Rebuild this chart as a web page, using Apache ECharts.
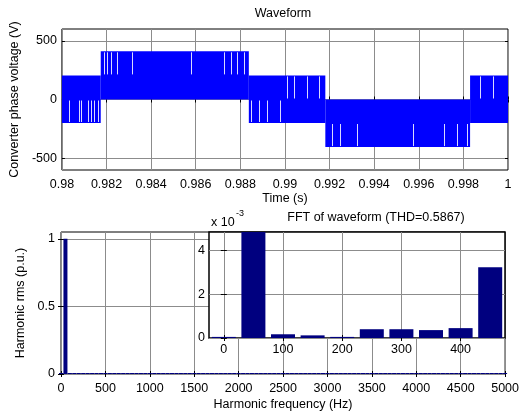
<!DOCTYPE html>
<html>
<head>
<meta charset="utf-8">
<script src="https://cdn.jsdelivr.net/npm/echarts@6/dist/echarts.min.js"></script>
<style>
html, body { margin: 0; padding: 0; background: #fff; }
#main { width: 522px; height: 418px; }
</style>
</head>
<body>
<div id="main"></div>
<script>
// ---- top plot: converter phase voltage, one 50 Hz cycle ----
var timeTicks = [0.98, 0.982, 0.984, 0.986, 0.988, 0.99, 0.992, 0.994, 0.996, 0.998, 1];
var voltTicks = [-500, 0, 500];
// PWM switches too fast to resolve, so each stretch is drawn as the band it fills
var segStart = [0.98, 0.98174, 0.98838, 0.99181, 0.9983];
var segEnd = [0.98174, 0.98838, 0.99181, 0.9983, 1.0];
var segHigh = [205, 410, 205, 0, 205];
var segLow = [-200, 0, -200, -405, -200];
// visible white gaps (where the signal skips a pulse)
var gapTime = [0.98033, 0.98077, 0.98085, 0.98118, 0.9813, 0.98145, 0.9816,
    0.98189, 0.98204, 0.98219, 0.98249, 0.98316, 0.98577, 0.98726, 0.98756, 0.98786, 0.98816,
    0.98846, 0.98883, 0.9892, 0.9898,
    0.9901, 0.9904, 0.991, 0.99151,
    0.99211, 0.99248, 0.99323, 0.99576, 0.99711, 0.9977, 0.99815,
    0.99875, 0.99934];
var gapLow = [-200, -200, -200, -200, -200, -200, -200,
    205, 205, 205, 205, 205, 205, 205, 205, 205, 205,
    -200, -200, -200, -200,
    0, 0, 0, 0,
    -405, -405, -405, -405, -405, -405, -405,
    0, 0];
var gapHigh = [0, 0, 0, 0, 0, 0, 0,
    410, 410, 410, 410, 410, 410, 410, 410, 410, 410,
    0, 0, 0, 0,
    205, 205, 205, 205,
    -200, -200, -200, -200, -200, -200, -200,
    205, 205];

// ---- bottom plot: harmonic spectrum ----
var freqTicks = [0, 500, 1000, 1500, 2000, 2500, 3000, 3500, 4000, 4500, 5000];
var rmsTicks = [0, 0.5, 1];
var harmFreq = [0, 50, 100, 150, 200, 250, 300, 350, 400, 450,
    500, 550, 600, 650, 700, 750, 800, 850, 900, 950,
    1000, 1050, 1100, 1150, 1200, 1250, 1300, 1350, 1400, 1450,
    1500, 1550, 1600, 1650, 1700, 1750, 1800, 1850, 1900, 1950,
    2000, 2050, 2100, 2150, 2200, 2250, 2300, 2350, 2400, 2450,
    2500, 2550, 2600, 2650, 2700, 2750, 2800, 2850, 2900, 2950,
    3000, 3050, 3100, 3150, 3200, 3250, 3300, 3350, 3400, 3450,
    3500, 3550, 3600, 3650, 3700, 3750, 3800, 3850, 3900, 3950,
    4000, 4050, 4100, 4150, 4200, 4250, 4300, 4350, 4400, 4450,
    4500, 4550, 4600, 4650, 4700, 4750, 4800, 4850, 4900, 4950, 5000];
// above 450 Hz every harmonic sits on the baseline
var highRms = [0.0002, 0.0002, 0.0002, 0.0002, 0.0002, 0.0002, 0.0002, 0.0002, 0.0002, 0.0002,
    0.0002, 0.0002, 0.0002, 0.0002, 0.0002, 0.0002, 0.0002, 0.0002, 0.0002, 0.0002,
    0.0002, 0.0002, 0.0002, 0.0002, 0.0002, 0.0002, 0.0002, 0.0002, 0.0002, 0.0002,
    0.0002, 0.0002, 0.0002, 0.0002, 0.0002, 0.0002, 0.0002, 0.0002, 0.0002, 0.0002,
    0.0002, 0.0002, 0.0002, 0.0002, 0.0002, 0.0002, 0.0002, 0.0002, 0.0002, 0.0002,
    0.0002, 0.0002, 0.0002, 0.0002, 0.0002, 0.0002, 0.0002, 0.0002, 0.0002, 0.0002,
    0.0002, 0.0002, 0.0002, 0.0002, 0.0002, 0.0002, 0.0002, 0.0002, 0.0002, 0.0002,
    0.0002, 0.0002, 0.0002, 0.0002, 0.0002, 0.0002, 0.0002, 0.0002, 0.0002, 0.0002,
    0.0002, 0.0002, 0.0002, 0.0002, 0.0002, 0.0002, 0.0002, 0.0002, 0.0002, 0.0002, 0.0002];

// ---- inset: 0..450 Hz, values in units of 1e-3 p.u. ----
var zoomFreqTicks = [0, 100, 200, 300, 400];
var zoomRmsTicks = [0, 2, 4];
var zoomFreq = [0, 50, 100, 150, 200, 250, 300, 350, 400, 450];
var zoomRms = [0.05, 1000, 0.17, 0.12, 0.05, 0.40, 0.40, 0.36, 0.45, 3.22];

var FONT = '"Liberation Sans", Arial, sans-serif';
var GRID_LINE = '#8c8c8c';
var NAVY = '#00007f';

var harmRms = zoomRms.map(function (v) { return v / 1000; }).concat(highRms);

// one axis side; labels only on bottom/left, ticks inward everywhere
function axis(kind, grid, pos, min, max, ticks, labelMargin, fmt, z) {
    var main = (pos === 'bottom' || pos === 'left');
    return {
        type: 'value',
        gridIndex: grid,
        position: pos,
        min: min,
        max: max,
        z: z || 0,
        axisLine: { show: false },
        axisTick: { show: true, inside: true, length: 3, customValues: ticks,
            lineStyle: { color: '#000', width: 1 } },
        axisLabel: { show: main, customValues: ticks, margin: labelMargin,
            fontFamily: FONT, fontSize: 12.5, color: '#000', formatter: fmt },
        splitLine: { show: main, lineStyle: { color: GRID_LINE, width: 1 } }
    };
}

function fmtNum(v) { return String(+v.toFixed(4)); }

var wave = [];
for (var i = 0; i < segStart.length; i++) {
    wave.push([segStart[i], segEnd[i], segLow[i], segHigh[i]]);
}
var gaps = gapTime.map(function (t, i) { return [t, gapLow[i], gapHigh[i]]; });

var spectrum = harmFreq.map(function (f, i) { return [f, harmRms[i]]; });
var inset = zoomFreq.map(function (f, i) { return [f, zoomRms[i]]; });

var myChart = echarts.init(document.getElementById('main'), null, { renderer: 'canvas' });

option = {
    animation: false,
    backgroundColor: '#fff',
    grid: [
        { left: 61, top: 29, width: 447, height: 141, show: true,
          backgroundColor: '#fff', borderColor: '#000', borderWidth: 1 },
        { left: 61, top: 232, width: 447, height: 142, show: true,
          backgroundColor: '#fff', borderColor: '#000', borderWidth: 1 },
        { left: 209, top: 232, width: 296, height: 106, show: true, z: 10,
          backgroundColor: '#fff', borderColor: '#000', borderWidth: 1.5 }
    ],
    xAxis: [
        Object.assign(axis('x', 0, 'bottom', 0.98, 1, timeTicks, 8, fmtNum), {
            name: 'Time (s)', nameLocation: 'middle', nameGap: 22,
            nameTextStyle: { fontFamily: FONT, fontSize: 12.5, color: '#000' }
        }),
        axis('x', 0, 'top', 0.98, 1, timeTicks, 8, fmtNum),
        Object.assign(axis('x', 1, 'bottom', 0, 5000, freqTicks, 8, fmtNum), {
            name: 'Harmonic frequency (Hz)', nameLocation: 'middle', nameGap: 24,
            nameTextStyle: { fontFamily: FONT, fontSize: 12.5, color: '#000' }
        }),
        axis('x', 1, 'top', 0, 5000, freqTicks, 8, fmtNum),
        axis('x', 2, 'bottom', -25, 475, zoomFreqTicks, 5, fmtNum, 11),
        axis('x', 2, 'top', -25, 475, zoomFreqTicks, 5, fmtNum, 11)
    ],
    yAxis: [
        Object.assign(axis('y', 0, 'left', -600, 600, voltTicks, 5, fmtNum), {
            name: 'Converter phase voltage (V)', nameLocation: 'middle', nameGap: 39,
            nameTextStyle: { fontFamily: FONT, fontSize: 12.5, color: '#000' }
        }),
        axis('y', 0, 'right', -600, 600, voltTicks, 5, fmtNum),
        Object.assign(axis('y', 1, 'left', 0, 1.05, rmsTicks, 6, fmtNum), {
            name: 'Harmonic rms (p.u.)', nameLocation: 'middle', nameGap: 30,
            nameTextStyle: { fontFamily: FONT, fontSize: 12.5, color: '#000' }
        }),
        axis('y', 1, 'right', 0, 1.05, rmsTicks, 6, fmtNum),
        axis('y', 2, 'left', 0, 4.83, zoomRmsTicks, 4, fmtNum, 11),
        axis('y', 2, 'right', 0, 4.83, zoomRmsTicks, 4, fmtNum, 11)
    ],
    graphic: [
        { type: 'text', x: 283, y: 14, style: { text: 'Waveform', font: '12.5px ' + FONT,
            fill: '#000', align: 'center', verticalAlign: 'middle' } },
        { type: 'text', x: 376, y: 218, style: { text: 'FFT of waveform (THD=0.5867)',
            font: '12.5px ' + FONT, fill: '#000', align: 'center', verticalAlign: 'middle' } },
        { type: 'text', x: 211, y: 223, style: { text: 'x 10', font: '12.5px ' + FONT,
            fill: '#000', align: 'left', verticalAlign: 'middle' } },
        { type: 'text', x: 236, y: 214, style: { text: '-3', font: '9px ' + FONT,
            fill: '#000', align: 'left', verticalAlign: 'middle' } }
    ],
    series: [
        {
            name: 'Converter phase voltage',
            type: 'custom',
            xAxisIndex: 0,
            yAxisIndex: 0,
            data: wave,
            clip: true,
            renderItem: function (params, api) {
                var p0 = api.coord([api.value(0), api.value(3)]);
                var p1 = api.coord([api.value(1), api.value(2)]);
                return {
                    type: 'rect',
                    shape: { x: p0[0], y: p0[1], width: p1[0] - p0[0], height: p1[1] - p0[1] },
                    style: { fill: '#0000ff' }
                };
            }
        },
        {
            name: 'Skipped pulses',
            type: 'custom',
            xAxisIndex: 0,
            yAxisIndex: 0,
            z: 3,
            data: gaps,
            clip: true,
            silent: true,
            renderItem: function (params, api) {
                var p0 = api.coord([api.value(0), api.value(2)]);
                var p1 = api.coord([api.value(0), api.value(1)]);
                var x = Math.round(p0[0]) + 0.5;
                return {
                    type: 'line',
                    shape: { x1: x, y1: p0[1] + 1, x2: x, y2: p1[1] - 1 },
                    style: { stroke: '#ffffff', lineWidth: 1, opacity: 0.85 }
                };
            }
        },
        {
            name: 'Harmonic rms',
            type: 'bar',
            xAxisIndex: 2,
            yAxisIndex: 2,
            data: spectrum,
            barWidth: 4,
            barMinHeight: 1,
            itemStyle: { color: NAVY }
        },
        {
            name: 'Harmonic rms zoom',
            type: 'bar',
            xAxisIndex: 4,
            yAxisIndex: 4,
            z: 12,
            data: inset,
            barWidth: 24,
            clip: true,
            itemStyle: { color: NAVY }
        }
    ]
};

myChart.setOption(option);
</script>
</body>
</html>
